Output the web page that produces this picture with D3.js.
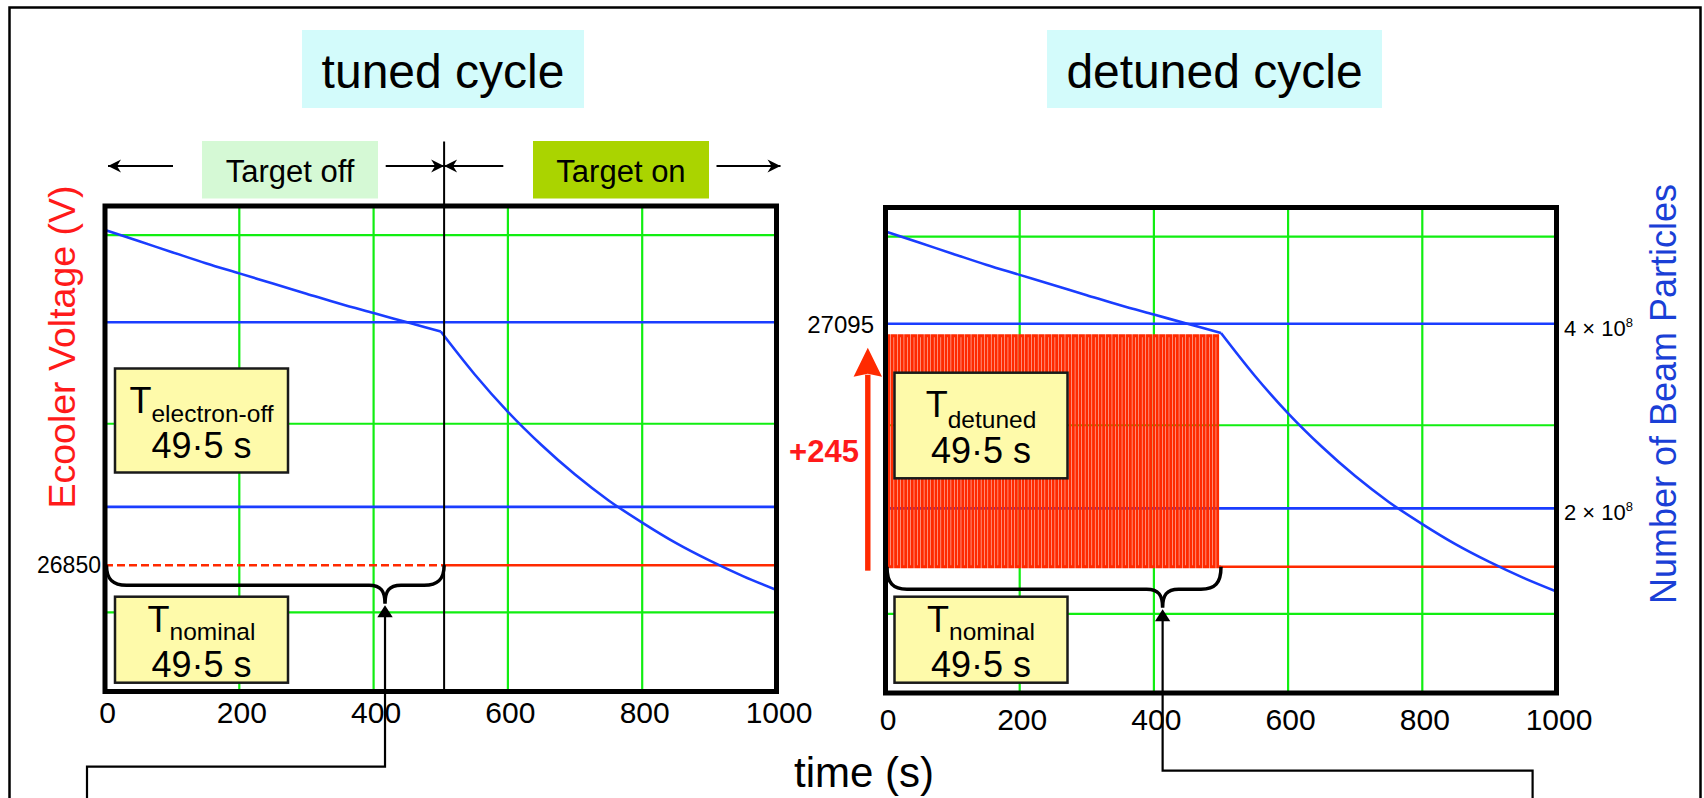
<!DOCTYPE html>
<html>
<head>
<meta charset="utf-8">
<script src="https://cdn.jsdelivr.net/npm/d3@7"></script>
<style>
body{margin:0;background:#fff;}
svg{display:block;font-family:"Liberation Sans",Arial,Helvetica,sans-serif;}
</style>
</head>
<body>
<svg id="chart" width="1704" height="798"></svg>
<script>
// ---- data ----
var timeTicks=[0,200,400,600,800,1000];
var voltGrid=[26800,27000,27200];
var beamTicks=[2,4];                 // x 1e8 particles
var curveTime=[0,50,100,150,200,250,300,350,400,450,500,550,600,650,700,750,800,850,900,950,1000];
var curveBeam=[5.00,4.88,4.76,4.64,4.53,4.42,4.31,4.20,4.10,4.00,3.90,3.44,3.03,2.67,2.35,2.07,1.83,1.61,1.42,1.25,1.10];
var voltNominal=26850, voltDetuned=27095;
var targetOnTime=505;
var detuneEnd=500, detunePeriod=10;
var braceTip=[417,413];
var durations=["49·5 s","49·5 s","49·5 s","49·5 s"];

var green="#11ee11", blue="#1a3dff", red="#ff2a00";

var svg=d3.select("#chart");

// outer frame
svg.append("rect").attr("x",9.5).attr("y",7.5).attr("width",1691).attr("height",840)
	.attr("fill","none").attr("stroke","#000").attr("stroke-width",2.5);

var panels=[
	{x0:105,x1:776.5,top:206,bottom:691.5,tickBase:10,title:"tuned cycle",tx:302,tw:282},
	{x0:885.5,x1:1556.5,top:207.5,bottom:693,tickBase:15.7,title:"detuned cycle",tx:1047,tw:335}
];

panels.forEach(function(p,pi){
	var x=d3.scaleLinear().domain([0,1000]).range([p.x0,p.x1]);
	var yV=d3.scaleLinear().domain([26716,27231]).range([p.bottom,p.top]);
	var yN=d3.scaleLinear().domain([0,5.26]).range([p.bottom,p.top]);
	p.x=x; p.yV=yV; p.yN=yN;

	// title box
	svg.append("rect").attr("x",p.tx).attr("y",30).attr("width",p.tw).attr("height",78).attr("fill","#d3fbfb");
	svg.append("text").attr("x",p.tx+p.tw/2).attr("y",88).attr("text-anchor","middle")
		.attr("font-size","48px").text(p.title);

	var g=svg.append("g");

	// green grid
	g.selectAll(".vg").data(timeTicks.filter(function(d){return d>0&&d<1000;})).enter().append("line")
		.attr("x1",function(d){return x(d);}).attr("x2",function(d){return x(d);})
		.attr("y1",p.top).attr("y2",p.bottom).attr("stroke",green).attr("stroke-width",2.2);
	g.selectAll(".hg").data(voltGrid).enter().append("line")
		.attr("x1",p.x0).attr("x2",p.x1)
		.attr("y1",function(d){return yV(d);}).attr("y2",function(d){return yV(d);})
		.attr("stroke",green).attr("stroke-width",2.2);

	// blue reference lines
	g.selectAll(".bl").data(beamTicks).enter().append("line")
		.attr("x1",p.x0).attr("x2",p.x1)
		.attr("y1",function(d){return yN(d);}).attr("y2",function(d){return yN(d);})
		.attr("stroke",blue).attr("stroke-width",2.6);

	// red voltage
	if(pi==0){
		g.append("line").attr("x1",x(0)).attr("x2",x(targetOnTime))
			.attr("y1",yV(voltNominal)).attr("y2",yV(voltNominal))
			.attr("stroke",red).attr("stroke-width",2.4).attr("stroke-dasharray","8,4");
		g.append("line").attr("x1",x(targetOnTime)).attr("x2",x(1000))
			.attr("y1",yV(voltNominal)).attr("y2",yV(voltNominal))
			.attr("stroke",red).attr("stroke-width",2.4);
	}else{
		var wave=[];
		for(var t=0;t<detuneEnd;t+=detunePeriod){
			wave.push([t,voltNominal],[t,voltDetuned],[t+detunePeriod/2,voltDetuned],[t+detunePeriod/2,voltNominal]);
		}
		wave.push([detuneEnd,voltNominal]);
		g.append("path").datum(wave)
			.attr("d",d3.line().x(function(d){return x(d[0]);}).y(function(d){return yV(d[1]);}))
			.attr("fill","none").attr("stroke",red).attr("stroke-width",2.9);
		g.append("line").attr("x1",x(detuneEnd)).attr("x2",x(1000))
			.attr("y1",yV(voltNominal)).attr("y2",yV(voltNominal))
			.attr("stroke",red).attr("stroke-width",2.4);
	}

	// beam curve
	var pts=curveTime.map(function(t,i){return [t,curveBeam[i]];});
	var line=d3.line().x(function(d){return x(d[0]);}).y(function(d){return yN(d[1]);}).curve(d3.curveMonotoneX);
	[pts.filter(function(d){return d[0]<=500;}),pts.filter(function(d){return d[0]>=500;})].forEach(function(seg){
		g.append("path").datum(seg).attr("d",line).attr("fill","none").attr("stroke",blue).attr("stroke-width",2.6);
	});

	// frame
	g.append("rect").attr("x",p.x0).attr("y",p.top).attr("width",p.x1-p.x0).attr("height",p.bottom-p.top)
		.attr("fill","none").attr("stroke","#000").attr("stroke-width",5);

	// x axis labels
	var ax=svg.append("g").attr("transform","translate(2,"+p.bottom+")")
		.call(d3.axisBottom(x).tickValues(timeTicks).tickFormat(d3.format("d")).tickSize(0).tickPadding(p.tickBase));
	ax.select(".domain").remove();
	ax.selectAll("text").attr("font-size","30px").attr("font-family","Liberation Sans, Arial, sans-serif").attr("fill","#000");

	// brace
	var xs=x(0)+1.5, xe=x(pi==0?targetOnTime:detuneEnd), xt=x(braceTip[pi]);
	var y0=yV(voltNominal), yh=y0+20+pi*2.5, yt=yh+18.5;
	var bd="M"+xs+","+y0+" C"+xs+","+(yh-6)+" "+(xs+6)+","+yh+" "+(xs+20)+","+yh+
		" L"+(xt-16)+","+yh+" C"+(xt-4)+","+yh+" "+xt+","+(yh+6)+" "+xt+","+yt+
		" C"+xt+","+(yh+6)+" "+(xt+4)+","+yh+" "+(xt+16)+","+yh+
		" L"+(xe-20)+","+yh+" C"+(xe-6)+","+yh+" "+xe+","+(yh-6)+" "+xe+","+y0;
	svg.append("path").attr("d",bd).attr("fill","none").attr("stroke","#000").attr("stroke-width",3.5);
	// arrow from brace tip
	svg.append("path").attr("d","M"+xt+","+(yt+1.5)+" L"+(xt-7.7)+","+(yt+13.5)+" L"+(xt+7.7)+","+(yt+13.5)+"Z").attr("fill","#000");
	var cy=pi==0?766.7:770.7, cx=pi==0?87:1532.6;
	svg.append("path").attr("d","M"+xt+","+(yt+13)+" L"+xt+","+cy+" L"+cx+","+cy+" L"+cx+",810")
		.attr("fill","none").attr("stroke","#000").attr("stroke-width",2.2);
});

var L=panels[0], R=panels[1];

// Target off / on header
svg.append("rect").attr("x",202).attr("y",141).attr("width",176).attr("height",57.5).attr("fill","#d5f9d5");
svg.append("rect").attr("x",533).attr("y",141).attr("width",176).attr("height",57.5).attr("fill","#aad400");
svg.append("text").attr("x",290).attr("y",181.5).attr("text-anchor","middle").attr("font-size","31px").text("Target off");
svg.append("text").attr("x",621).attr("y",181.5).attr("text-anchor","middle").attr("font-size","31px").text("Target on");

var xDiv=L.x(targetOnTime);
svg.append("line").attr("x1",xDiv).attr("x2",xDiv).attr("y1",141.5).attr("y2",L.bottom).attr("stroke","#000").attr("stroke-width",2);
function arrow(xa,xb,tipAt,dir){
	svg.append("line").attr("x1",xa).attr("x2",xb).attr("y1",166).attr("y2",166).attr("stroke","#000").attr("stroke-width",2.2);
	svg.append("path").attr("d","M"+tipAt+",166 L"+(tipAt-dir*13)+","+159.5+" L"+(tipAt-dir*9)+",166 L"+(tipAt-dir*13)+","+172.5+"Z").attr("fill","#000");
}
arrow(108,173,108,-1);
arrow(385.7,xDiv,xDiv,1);
arrow(xDiv,503.3,xDiv,-1);
arrow(716.5,780.5,780.5,1);

// yellow boxes
var boxes=[
	{x:115,y:368.5,h:104,sub:"electron-off",tb:412.5,sd:9,vb:458.3},
	{x:115,y:596.7,h:86,sub:"nominal",tb:631.7,sd:8.5,vb:676.7},
	{x:894.5,y:372.7,h:105.6,sub:"detuned",tb:417.3,sd:11,vb:463.3},
	{x:894.5,y:596.7,h:86,sub:"nominal",tb:631.7,sd:8.5,vb:676.7}
];
boxes.forEach(function(b,i){
	svg.append("rect").attr("x",b.x).attr("y",b.y).attr("width",173).attr("height",b.h)
		.attr("fill","#fefaaa").attr("stroke","#1a1a1a").attr("stroke-width",2.5);
	var t=svg.append("text").attr("x",b.x+86.5).attr("y",b.tb).attr("text-anchor","middle").attr("font-size","36px");
	t.append("tspan").text("T");
	t.append("tspan").attr("dy",b.sd).attr("font-size","24.5px").text(b.sub);
	svg.append("text").attr("x",b.x+86.5).attr("y",b.vb).attr("text-anchor","middle").attr("font-size","36px").text(durations[i]);
});

// voltage labels
svg.append("text").attr("x",101).attr("y",L.yV(voltNominal)+8).attr("text-anchor","end").attr("font-size","23px").text(voltNominal);
svg.append("text").attr("x",874).attr("y",R.yV(voltDetuned)-3).attr("text-anchor","end").attr("font-size","24px").text(voltDetuned);

// beam tick labels
beamTicks.forEach(function(d){
	var t=svg.append("text").attr("x",R.x1+7.5).attr("y",R.yN(d)+12).attr("font-size","22px");
	t.append("tspan").text(d+" \u00d7 10");
	t.append("tspan").attr("dy",-9).attr("font-size","13px").text("8");
});

// +245 arrow
var ax0=867.8, tipY=R.yV(voltDetuned)+12;
svg.append("rect").attr("x",ax0-2.7).attr("y",tipY+27).attr("width",5.4).attr("height",R.yV(voltNominal)+4-(tipY+27)).attr("fill",red);
svg.append("path").attr("d","M"+ax0+","+tipY+" L"+(ax0+14.2)+","+(tipY+29)+" L"+ax0+","+(tipY+26)+" L"+(ax0-14.2)+","+(tipY+29)+"Z").attr("fill",red);
svg.append("text").attr("x",824).attr("y",461.7).attr("text-anchor","middle").attr("font-size","31px")
	.attr("font-weight","bold").attr("fill","#ff1a1a").text("+"+(voltDetuned-voltNominal));

// axis titles
svg.append("text").attr("transform","translate(75,347) rotate(-90)").attr("text-anchor","middle")
	.attr("font-size","37.5px").attr("fill","#ff1a1a").text("Ecooler Voltage (V)");
svg.append("text").attr("transform","translate(1676,394) rotate(-90)").attr("text-anchor","middle")
	.attr("font-size","36px").attr("fill","#1a3fd6").text("Number of Beam Particles");
svg.append("text").attr("x",864).attr("y",787).attr("text-anchor","middle").attr("font-size","42px").text("time (s)");
</script>
</body>
</html>
